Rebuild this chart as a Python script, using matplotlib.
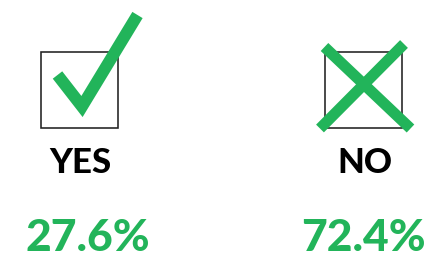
import matplotlib
matplotlib.use("Agg")
import matplotlib.pyplot as plt
from matplotlib.patches import Rectangle

categories = ["YES", "NO"]
values = [27.6, 72.4]

GREEN = "#22b45a"
W, H = 434, 256
DPI = 100

fig = plt.figure(figsize=(W / DPI, H / DPI), dpi=DPI)
ax = fig.add_axes([0, 0, 1, 1])
ax.set_xlim(0, W)
ax.set_ylim(H, 0)
ax.axis("off")

px = 72 / DPI  # points per pixel

# boxes
for x0 in (41, 325):
    ax.add_patch(Rectangle((x0, 51.5), 77, 76.5, fill=False,
                           edgecolor="#222222", linewidth=1.6 * px))

# check mark (YES)
ax.plot([57.5, 82, 137.5], [75, 106.5, 15], color=GREEN,
        linewidth=12 * px, solid_capstyle="butt", solid_joinstyle="miter")

# cross (NO)
ax.plot([324.5, 410.5], [47, 128.5], color=GREEN, linewidth=11 * px,
        solid_capstyle="butt")
ax.plot([404, 320], [44, 128.5], color=GREEN, linewidth=11 * px,
        solid_capstyle="butt")

fam = ["Lato", "DejaVu Sans"]
label_x = [80, 364.5]
value_x = [88, 363.5]
for cat, val, lx, vx in zip(categories, values, label_x, value_x):
    ax.text(lx, 173, cat, ha="center", va="baseline", fontsize=25,
            fontweight="black", family=fam, color="black")
    ax.text(vx, 251, f"{val:.1f}%", ha="center", va="baseline", fontsize=32,
            fontweight="black", family=fam, color=GREEN)

fig.savefig("out.png", dpi=DPI, facecolor="white")
